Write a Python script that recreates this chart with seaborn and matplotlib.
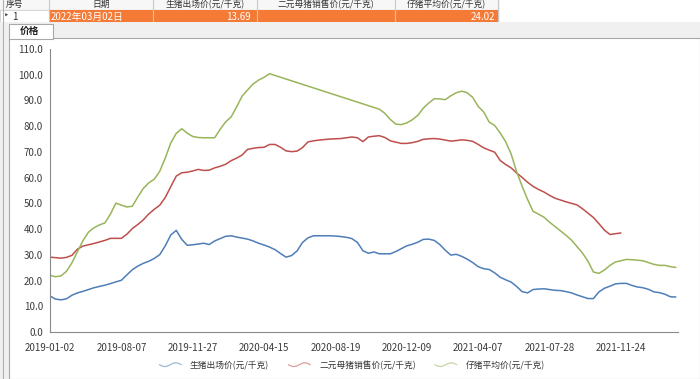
import numpy as np
import pandas as pd
import matplotlib
matplotlib.use('Agg')
import matplotlib.pyplot as plt
import seaborn as sns
from matplotlib.patches import Rectangle
from matplotlib.lines import Line2D
from matplotlib.legend_handler import HandlerLine2D
from matplotlib.ticker import MultipleLocator, FuncFormatter

# ---- data (one value every other week) ----
tick_labels = ['2019-01-02', '2019-08-07', '2019-11-27', '2020-04-15', '2020-08-19',
               '2020-12-09', '2021-04-07', '2021-07-28', '2021-11-24']
series_names = ['生猪出场价(元/千克)', '二元母猪销售价(元/千克)', '仔猪平均价(元/千克)']
points_per_label = 13

hog_price = [
    14.0, 12.8, 12.5, 12.9, 14.3, 15.2, 15.8, 16.5, 17.2, 17.7,
    18.2, 18.8, 19.5, 20.1, 22.2, 24.2, 25.6, 26.7, 27.5, 28.6,
    30.1, 33.5, 37.7, 39.5, 36.0, 33.7, 33.9, 34.2, 34.5, 34.0,
    35.4, 36.3, 37.2, 37.4, 36.9, 36.5, 36.1, 35.4, 34.5, 33.8,
    33.0, 32.0, 30.5, 29.1, 29.7, 31.5, 34.8, 36.6, 37.4, 37.4,
    37.4, 37.4, 37.3, 37.1, 36.8, 36.3, 34.8, 31.6, 30.6, 31.1,
    30.4, 30.4, 30.4, 31.3, 32.4, 33.5, 34.1, 34.9, 36.0, 36.1,
    35.6, 34.0, 31.8, 29.9, 30.2, 29.4, 28.3, 27.0, 25.4, 24.6,
    24.3, 23.0, 21.3, 20.3, 19.4, 17.7, 15.7, 15.2, 16.5, 16.7,
    16.8, 16.5, 16.2, 16.1, 15.7, 15.2, 14.4, 13.7, 13.0, 13.0,
    15.6, 17.0, 17.8, 18.7, 18.9, 18.9, 18.1, 17.5, 17.2, 16.6,
    15.6, 15.3, 14.7, 13.7, 13.6,
]

sow_price = [
    29.1, 28.9, 28.7, 29.0, 29.8, 32.2, 33.4, 33.9, 34.4, 35.0,
    35.6, 36.4, 36.4, 36.4, 38.0, 40.2, 41.8, 43.6, 45.9, 47.7,
    49.3, 52.3, 56.5, 60.6, 61.9, 62.1, 62.6, 63.2, 62.8, 62.9,
    63.8, 64.4, 65.2, 66.6, 67.6, 68.8, 71.0, 71.4, 71.7, 71.8,
    72.9, 72.9, 71.8, 70.4, 70.1, 70.3, 71.7, 73.9, 74.3, 74.6,
    74.8, 75.0, 75.1, 75.2, 75.5, 75.8, 75.5, 74.0, 75.8, 76.1,
    76.3, 75.6, 74.3, 73.8, 73.3, 73.3, 73.6, 74.1, 74.9, 75.1,
    75.2, 75.0, 74.6, 74.2, 74.4, 74.7, 74.5, 74.1, 72.9, 71.6,
    70.7, 69.9, 66.7, 65.1, 63.8, 61.8, 60.1, 58.2, 56.6, 55.4,
    54.4, 53.1, 52.0, 51.3, 50.6, 50.0, 49.4, 47.9, 46.2, 44.5,
    42.1, 39.6, 37.9, 38.2, 38.5,
]

nan = np.nan
piglet_price = [
    22.0, 21.5, 21.8, 23.6, 26.9, 31.2, 35.5, 38.8, 40.5, 41.6,
    42.4, 45.8, 50.1, 49.3, 48.6, 48.9, 52.5, 55.8, 58.0, 59.4,
    62.5, 67.6, 73.5, 77.2, 79.0, 77.3, 76.0, 75.6, 75.5, 75.5,
    75.5, 78.8, 81.7, 83.6, 87.5, 91.7, 94.1, 96.4, 97.9, 99.0,
    100.4, nan, nan, nan, nan, nan, nan, nan, nan, nan,
    nan, nan, nan, nan, nan, nan, nan, nan, nan, nan,
    86.6, 85.0, 82.6, 80.8, 80.6, 81.3, 82.5, 84.2, 87.0, 89.0,
    90.7, 90.6, 90.3, 91.8, 93.0, 93.6, 93.0, 91.2, 87.7, 85.5,
    81.6, 80.3, 77.4, 74.0, 69.2, 62.3, 56.7, 51.5, 46.9, 45.8,
    44.6, 42.7, 41.0, 39.3, 37.6, 35.7, 33.2, 30.7, 27.5, 23.3,
    22.8, 24.1, 25.9, 27.2, 27.7, 28.2, 28.1, 27.9, 27.7, 27.0,
    26.3, 25.9, 25.9, 25.4, 25.1,
]

colors = ['#4F7DB8', '#BE4F4C', '#98B55A']

frames = []
for name, vals in zip(series_names, [hog_price, sow_price, piglet_price]):
    frames.append(pd.DataFrame({'idx': np.arange(len(vals)), 'price': vals, 'series': name}))
df = pd.concat(frames, ignore_index=True).dropna()

sns.set_style('white')
plt.rcParams['font.family'] = ['Noto Sans CJK SC', 'DejaVu Sans']

W, H = 700, 379
fig = plt.figure(figsize=(W / 100, H / 100), dpi=100)

# ---- window chrome drawn in pixel coordinates ----
bg = fig.add_axes([0, 0, 1, 1])
bg.set_xlim(0, W)
bg.set_ylim(H, 0)
bg.axis('off')
bg.add_patch(Rectangle((0, 0), W, H, color='#f0f0f0', zorder=0))
# table header row
bg.add_patch(Rectangle((0, 0), 500, 9, facecolor='#f7f7f7', edgecolor='none', zorder=1))
bg.add_patch(Rectangle((500, 0), 200, 23, facecolor='white', edgecolor='none', zorder=1))
for x in [49, 153, 257, 395, 498]:
    bg.plot([x, x], [0, 22], color='#c8c8c8', lw=0.8, zorder=2)
header = [(14, '序号'), (101, '日期'), (205, '生猪出场价(元/千克)'),
          (326, '二元母猪销售价(元/千克)'), (446, '仔猪平均价(元/千克)')]
for x, t in header:
    bg.text(x, 4.6, t, ha='center', va='center', fontsize=6.3, color='#333333', zorder=3)
# selected data row
bg.add_patch(Rectangle((0, 9.5), 49, 13.5, facecolor='white', edgecolor='#d0d0d0', lw=0.6,
                       zorder=1))
bg.add_patch(Rectangle((49, 9.5), 449, 13.5, facecolor='#F47A35', edgecolor='none', zorder=1))
for x in [153, 257, 395]:
    bg.plot([x, x], [9.5, 23], color='#f9b58c', lw=0.8, zorder=2)
bg.text(6, 16.5, '‣', ha='center', va='center', fontsize=6, color='#333333', zorder=3,
        family='DejaVu Sans')
bg.text(15, 16.5, '1', ha='center', va='center', fontsize=7, color='#333333', zorder=3)
bg.text(51, 16.5, '2022年03月02日', ha='left', va='center', fontsize=7, color='white', zorder=3)
bg.text(251, 16.5, '13.69', ha='right', va='center', fontsize=7, color='white', zorder=3)
bg.text(495, 16.5, '24.02', ha='right', va='center', fontsize=7, color='white', zorder=3)
# tab strip
bg.add_patch(Rectangle((0, 21.5), W, 16.5, facecolor='#f0f0f0', edgecolor='none', zorder=4))
bg.add_patch(Rectangle((9, 23.5), 44, 15, facecolor='white', edgecolor='#a8a8a8', lw=0.8, zorder=5))
bg.text(30, 30.5, '价格', ha='center', va='center', fontsize=7, fontweight='bold',
        color='#222222', zorder=6)
# chart panel and left splitter
bg.add_patch(Rectangle((9, 38), W - 9, H - 38, facecolor='white', edgecolor='#a8a8a8',
                       lw=0.8, zorder=4))
bg.plot([3, 3], [0, H], color='#b0b0b0', lw=0.8, zorder=5)

# ---- chart ----
ax = fig.add_axes([50 / W, (H - 332) / H, 628 / W, 283 / H])
ax.patch.set_alpha(0)
sns.lineplot(data=df, x='idx', y='price', hue='series', hue_order=series_names,
             palette=colors, linewidth=1.1, legend=False, ax=ax)
ax.set_xlim(0, 114.4)
ax.set_ylim(0, 110)
ax.set_xlabel('')
ax.set_ylabel('')
for s in ['top', 'right']:
    ax.spines[s].set_visible(False)
for s in ['left', 'bottom']:
    ax.spines[s].set_color('#8a8a8a')
    ax.spines[s].set_linewidth(0.8)


def xfmt(v, pos):
    k = v / points_per_label
    if abs(k - round(k)) < 1e-6 and 0 <= round(k) < len(tick_labels):
        return tick_labels[int(round(k))]
    return ''


ax.xaxis.set_major_locator(MultipleLocator(points_per_label / 2))
ax.xaxis.set_minor_locator(MultipleLocator(0.5))
ax.xaxis.set_major_formatter(FuncFormatter(xfmt))
ax.yaxis.set_major_locator(MultipleLocator(10))
ax.yaxis.set_minor_locator(MultipleLocator(2))
ax.yaxis.set_major_formatter(FuncFormatter(lambda v, p: f'{v:.1f}'))
ax.tick_params(axis='both', which='major', direction='inout', length=4, width=0.7,
               color='#8a8a8a', labelsize=7, labelcolor='#3c3c3c', pad=3)
ax.tick_params(axis='both', which='minor', direction='out', length=2, width=0.6,
               color='#9a9a9a')
ax.tick_params(axis='x', which='major', pad=6)


class WaveHandler(HandlerLine2D):
    def create_artists(self, legend, orig_handle, xdescent, ydescent, width, height,
                       fontsize, trans):
        t = np.linspace(0, 1, 40)
        xs = -xdescent + t * width
        ys = -ydescent + height / 2 - 0.3 * height * np.sin(2 * np.pi * t)
        line = Line2D(xs, ys, color=orig_handle.get_color(), lw=0.9, alpha=0.55,
                      transform=trans)
        return [line]


handles = [Line2D([], [], color=c) for c in colors]
fig.legend(handles, series_names, loc='center', bbox_to_anchor=(352 / W, 1 - 365 / H),
           ncol=3, frameon=False, fontsize=6.3, handlelength=2.5, handletextpad=1.0,
           columnspacing=2.2, labelcolor='#333333',
           handler_map={Line2D: WaveHandler()})

fig.savefig('out.png', dpi=100)
